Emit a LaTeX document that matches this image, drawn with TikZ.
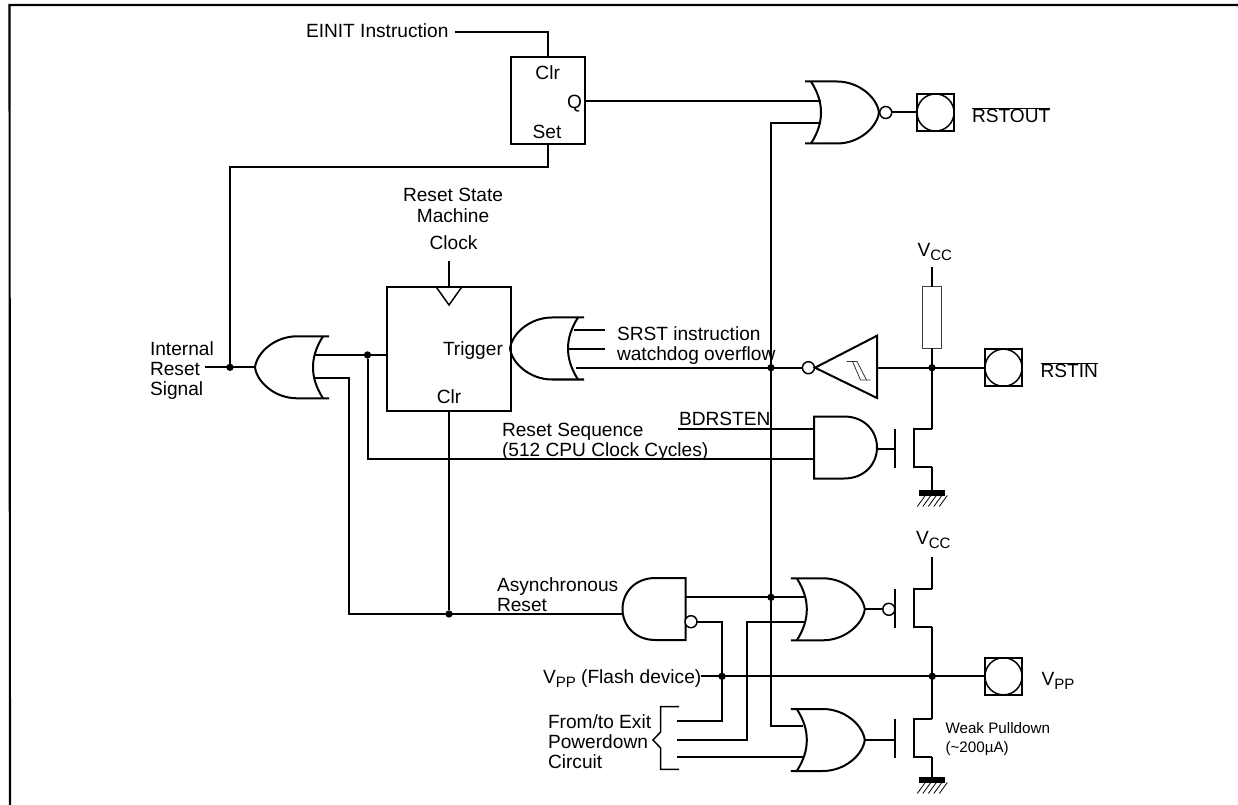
\documentclass[tikz,border=0pt]{standalone}
\usepackage{fontspec}
\setmainfont{Liberation Sans}
\newcommand{\tsz}{\fontsize{14.35}{17}\selectfont}
\newcommand{\ssz}{\fontsize{11.3}{13}\selectfont}
\newcommand{\wsz}{\fontsize{11.4}{13}\selectfont}
\newcommand{\subs}[1]{\raisebox{-3pt}{\ssz #1}}
\tikzset{
  wire/.style={line width=1.5pt,line join=miter},
  thinw/.style={line width=0.6pt,draw=black!80},
  lbl/.style={anchor=base west,inner sep=0pt,outer sep=0pt,font=\tsz,align=left},
  lblc/.style={anchor=base,inner sep=0pt,outer sep=0pt,font=\tsz},
  small/.style={anchor=base west,inner sep=0pt,outer sep=0pt,font=\wsz},
  dotn/.style={circle,fill=black,inner sep=0pt,outer sep=0pt,minimum size=5.5pt},
  bub/.style={circle,draw=black,line width=1.1pt,fill=white,inner sep=0pt,outer sep=0pt,minimum size=9pt},
  blockbox/.style={draw=black,line width=1.5pt,inner sep=0pt,outer sep=0pt},
  padbox/.style={draw=black,line width=1.5pt,inner sep=0pt,outer sep=0pt,minimum size=27.8pt},
  padcirc/.style={circle,draw=black,line width=1.1pt,inner sep=0pt,outer sep=0pt,minimum size=27.8pt},
  orgate/.pic={
    \draw[wire] (-74,-31) -- (-42,-31) .. controls (-20,-31) and (-2,-15) .. (0,0)
      .. controls (-2,15) and (-20,31) .. (-42,31) -- (-74,31);
    \draw[wire] (-68,-31) .. controls (-61,-20) and (-58,-10) .. (-58,0)
      .. controls (-58,10) and (-61,20) .. (-68,31);
  },
  andgate/.pic={
    \draw[wire] (-63,-31) -- (-33,-31) .. controls (-12,-31) and (0,-16) .. (0,0)
      .. controls (0,16) and (-12,31) .. (-33,31) -- (-63,31) -- cycle;
  },
  fetgate/.pic={
    \draw[wire] (0,-19.5) -- (0,19.5);
    \draw[wire] (37,-19.5) -- (18.5,-19.5) -- (18.5,19) -- (37,19);
  },
  gnd/.pic={
    \fill (-13,0) rectangle (13,6);
    \foreach \i in {-11,-5.5,0,5.5,11}{\draw[line width=0.6pt] (\i-4,17) -- (\i+4,6);}
  }
}
\begin{document}
\begin{tikzpicture}[x=0.75pt,y=-0.75pt]
\useasboundingbox (0,0) rectangle (1238,805);
% frame
\coordinate (fa) at (1238,5);
\coordinate (fb) at (9.5,5);
\coordinate (fc) at (10,805);
\draw[line width=1.6pt] (fa) -- (fb) -- (fc);

% blocks
\node[blockbox,minimum width=55.5pt,minimum height=65.2pt] (latch) at (548,100.5) {};
\node[blockbox,minimum width=93pt,minimum height=93pt] (trig) at (449,348.7) {};
\node[draw=black!75,line width=0.7pt,inner sep=0pt,outer sep=0pt,minimum width=13.6pt,minimum height=46.2pt] (res) at (932,317.5) {};

% pads
\node[padbox] (padout) at (935.5,112.5) {};
\node[padcirc] at (935.5,112.5) {};
\node[padbox] (padin) at (1003.5,367.7) {};
\node[padcirc] at (1003.5,367.7) {};
\node[padbox] (padvpp) at (1003.5,676.3) {};
\node[padcirc] at (1003.5,676.3) {};

% gates
\pic at (879,112.5) {orgate};
\pic[xscale=-1] at (255,367.3) {orgate};
\pic[xscale=-1] at (510,348.5) {orgate};
\pic at (864.8,609.3) {orgate};
\pic at (864.8,740) {orgate};
\pic at (877,447.5) {andgate};
\pic[xscale=-1] at (622.5,609) {andgate};

% transistors
\pic at (895,448) {fetgate};
\pic at (895,608) {fetgate};
\pic at (895,738) {fetgate};
\pic at (932.3,489.5) {gnd};
\pic at (932.3,776.5) {gnd};

% junctions
\node[dotn] (jint) at (230,367.3) {};
\node[dotn] (jtrig) at (367.5,355) {};
\node[dotn] (jcross) at (771,367.7) {};
\node[dotn] (jrst) at (932,367.7) {};
\node[dotn] (jasync) at (449,614) {};
\node[dotn] (jnand) at (771,597.3) {};
\node[dotn] (jvppl) at (722,676.3) {};
\node[dotn] (jvppr) at (932.3,676.3) {};

% bubbles
\node[bub] (b1) at (885.7,112.5) {};
\node[bub] (b2) at (808.4,367.7) {};
\node[bub] (b3) at (888.8,609.3) {};
\node[bub] (b4) at (691,621.7) {};

% free ends and bends
\coordinate (einitS) at (455,32);
\coordinate (einitB) at (548,32);
\coordinate (setB) at (548,166.7);
\coordinate (setC) at (230,166.7);
\coordinate (nor1a) at (820.5,101);
\coordinate (nor1b) at (820.5,123.3);
\coordinate (crossT) at (771,123.3);
\coordinate (clkS) at (449,261);
\coordinate (intS) at (205,367.3);
\coordinate (or1e) at (255,367.3);
\coordinate (or1a) at (315,355);
\coordinate (or1b) at (315,377.7);
\coordinate (or1bB) at (349,377.7);
\coordinate (or1bC) at (349,614);
\coordinate (nandL) at (622.5,614);
\coordinate (seqB) at (367.5,459);
\coordinate (seqE) at (814,459);
\coordinate (bdS) at (678,429);
\coordinate (bdE) at (814,429);
\coordinate (srstA) at (574,330);
\coordinate (srstB) at (605,330);
\coordinate (wdA) at (568.5,348.7);
\coordinate (wdB) at (605,348.7);
\coordinate (or2c) at (575.5,367.7);
\coordinate (invB) at (877,367.7);
\coordinate (vccT) at (932,267.3);
\coordinate (fet1T) at (932,428.5);
\coordinate (fet1B) at (932.3,467);
\coordinate (gnd1) at (932.3,489.5);
\coordinate (and1e) at (877,449);
\coordinate (gate1) at (895,449);
\coordinate (nandA) at (684.6,597.3);
\coordinate (or3a) at (803.5,597.3);
\coordinate (or3e) at (864.8,609.3);
\coordinate (vcc2T) at (932.3,557.3);
\coordinate (fet2T) at (932.3,588.5);
\coordinate (fet2B) at (932.3,627);
\coordinate (nandB) at (722,621.7);
\coordinate (ex1E) at (722,721);
\coordinate (ex1S) at (677,721);
\coordinate (or3b) at (804,621.7);
\coordinate (ex2B) at (746.8,621.7);
\coordinate (ex2C) at (746.8,740);
\coordinate (ex2S) at (677,740);
\coordinate (ex3S) at (677,757);
\coordinate (ex3E) at (803,757);
\coordinate (crossB) at (771,726);
\coordinate (or4a) at (803,726);
\coordinate (or4e) at (864.8,740);
\coordinate (gate3) at (895,740);
\coordinate (fet3T) at (932.3,718.5);
\coordinate (fet3B) at (932.3,757);
\coordinate (gnd2) at (932.3,776.5);
\coordinate (vppS) at (701,676.3);

% connectors
\draw[wire] (einitS) -- (einitB) -- (latch.north);
\draw[wire] (latch.south) -- (setB) -- (setC) -- (jint);
\draw[wire] (intS) -- (or1e);
\draw[wire] (latch.east |- nor1a) -- (nor1a);
\draw[wire] (nor1b) -- (crossT) -- (crossB) -- (or4a);
\draw[wire] (b1) -- (padout.west);
\draw[wire] (clkS) -- (trig.north);
\draw[wire] (or1a) -- (trig.west |- or1a);
\draw[wire] (or1b) -- (or1bB) -- (or1bC) -- (nandL);
\draw[wire] (jtrig) -- (seqB) -- (seqE);
\draw[wire] (trig.south) -- (jasync);
\draw[wire] (bdS) -- (bdE);
\draw[wire] (srstA) -- (srstB);
\draw[wire] (wdA) -- (wdB);
\draw[wire] (or2c) -- (b2);
\draw[wire] (invB) -- (padin.west);
\draw[wire] (vccT) -- (res.north);
\draw[wire] (res.south) -- (fet1T);
\draw[wire] (fet1B) -- (gnd1);
\draw[wire] (and1e) -- (gate1);
\draw[wire] (nandA) -- (or3a);
\draw[wire] (or3e) -- (b3);
\draw[wire] (vcc2T) -- (fet2T);
\draw[wire] (fet2B) -- (fet3T);
\draw[wire] (b4) -- (nandB) -- (ex1E) -- (ex1S);
\draw[wire] (or3b) -- (ex2B) -- (ex2C) -- (ex2S);
\draw[wire] (ex3S) -- (ex3E);
\draw[wire] (or4e) -- (gate3);
\draw[wire] (fet3B) -- (gnd2);
\draw[wire] (vppS) -- (padvpp.west);

% inverter with hysteresis
\coordinate (ta) at (815,367.7);
\coordinate (tb) at (877,335.7);
\coordinate (tc) at (877,398);
\draw[wire] (ta) -- (tb) -- (tc) -- cycle;
\coordinate (ha) at (846.5,361.5);
\coordinate (hb) at (857,361.5);
\coordinate (hc) at (866.5,380);
\coordinate (hd) at (870.5,380);
\coordinate (he) at (860.5,380);
\coordinate (hf) at (852.5,361.5);
\draw[thinw] (ha) -- (hb) -- (hc) -- (hd);
\draw[thinw] (hf) -- (he) -- (hc);

% brace
\coordinate (ba) at (679,706.7);
\coordinate (bb) at (660.6,706.7);
\coordinate (bc) at (660.6,732);
\coordinate (bd) at (653,740);
\coordinate (be) at (660.6,748);
\coordinate (bf) at (660.6,769.3);
\coordinate (bg) at (679,769.3);
\draw[wire,line width=1.1pt] (ba) -- (bb) -- (bc) -- (bd) -- (be) -- (bf) -- (bg);

% clock triangle
\coordinate (ca) at (436,286.7);
\coordinate (cb) at (449,305);
\coordinate (cc) at (462,286.7);
\draw[wire,line width=1.1pt] (ca) -- (cb) -- (cc);

% labels
\node[lbl] (tEinit) at (306,38) {EINIT Instruction};
\node[lblc] (tClr1) at (547.7,80) {Clr};
\node[lblc] (tQ) at (574.5,109) {Q};
\node[lblc] (tSet) at (547,139) {Set};
\node[lbl] (tRstout) at (972,123) {$\overline{\mbox{RSTOUT}}$};
\node[lblc] (tRs1) at (453,202) {Reset State};
\node[lblc] (tRs2) at (453,223) {Machine};
\node[lblc] (tRs3) at (453.5,250) {Clock};
\node[lbl] (tInt1) at (150,355) {Internal};
\node[lbl] (tInt2) at (150,376) {Reset};
\node[lbl] (tInt3) at (150,396) {Signal};
\node[lbl] (tTrig) at (443,355) {Trigger};
\node[lblc] (tClr2) at (449,403) {Clr};
\node[lbl] (tSrst) at (617,341) {SRST instruction};
\node[lbl] (tWd) at (617,361) {watchdog overflow};
\node[lbl] (tBd) at (679,425) {BDRSTEN};
\node[lbl] (tSeq1) at (502,436) {Reset Sequence};
\node[lbl] (tSeq2) at (502,456) {(512 CPU Clock Cycles)};
\node[lbl] (tVcc1) at (917.5,257) {V\subs{CC}};
\node[lbl] (tRstin) at (1040.5,378) {$\overline{\mbox{RSTIN}}$};
\node[lbl] (tAs1) at (497,591) {Asynchronous};
\node[lbl] (tAs2) at (497,611) {Reset};
\node[lbl] (tVcc2) at (916,544) {V\subs{CC}};
\node[lbl] (tVf) at (543,683) {V\subs{PP} (Flash device)};
\node[lbl] (tVpp) at (1041.5,685) {V\subs{PP}};
\node[lbl] (tFr1) at (548,728) {From/to Exit};
\node[lbl] (tFr2) at (548,748) {Powerdown};
\node[lbl] (tFr3) at (548,768) {Circuit};
\node[small] (tW1) at (945.5,733) {Weak Pulldown};
\node[small] (tW2) at (945.5,752) {(\textasciitilde 200µA)};
\end{tikzpicture}
\end{document}
